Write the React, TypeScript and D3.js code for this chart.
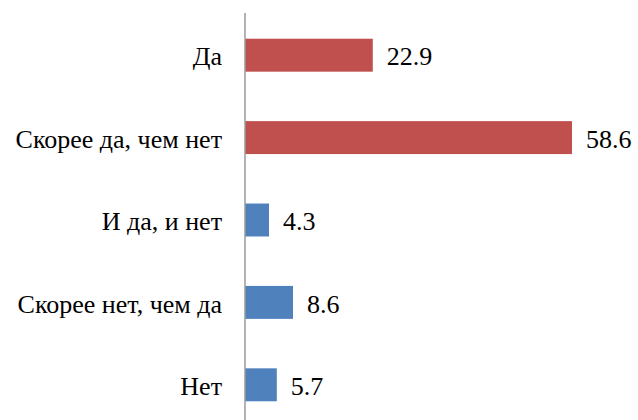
import React from "react";
import * as d3 from "d3";

const categories = ["Да", "Скорее да, чем нет", "И да, и нет", "Скорее нет, чем да", "Нет"];
const values = [22.9, 58.6, 4.3, 8.6, 5.7];
const barColors = ["#C0504D", "#C0504D", "#4F81BD", "#4F81BD", "#4F81BD"];

const W = 638;
const H = 420;

export default function App() {
  const x = d3.scaleLinear().domain([0, 60]).range([245, 245 + 60 * 5.58]);
  const y = d3
    .scaleBand<string>()
    .domain(categories)
    .range([14, 426])
    .paddingInner(0.6)
    .paddingOuter(0.3);
  const textStyle: React.CSSProperties = {
    fontFamily: "Liberation Serif, Tinos, Times New Roman, serif",
    fontSize: "26px",
  };
  return (
    <svg
      width={W}
      height={H}
      style={{ position: "absolute", left: 0, top: 0, background: "#fff" }}
    >
      {categories.map((c, i) => {
        const yy = y(c)!;
        const bw = y.bandwidth();
        return (
          <g key={c}>
            <rect
              x={x(0)}
              y={yy}
              width={x(values[i]) - x(0)}
              height={bw}
              fill={barColors[i]}
            />
            <text
              x={222}
              y={yy + bw / 2 + 1}
              dy="0.35em"
              textAnchor="end"
              style={textStyle}
              fill="#000"
            >
              {c}
            </text>
            <text
              x={x(values[i]) + 14}
              y={yy + bw / 2 + 1}
              dy="0.35em"
              textAnchor="start"
              style={textStyle}
              fill="#000"
            >
              {values[i].toFixed(1)}
            </text>
          </g>
        );
      })}
      <line x1={x(0)} x2={x(0)} y1={13} y2={H} stroke="#9A9A9A" strokeWidth={1.5} />
    </svg>
  );
}
